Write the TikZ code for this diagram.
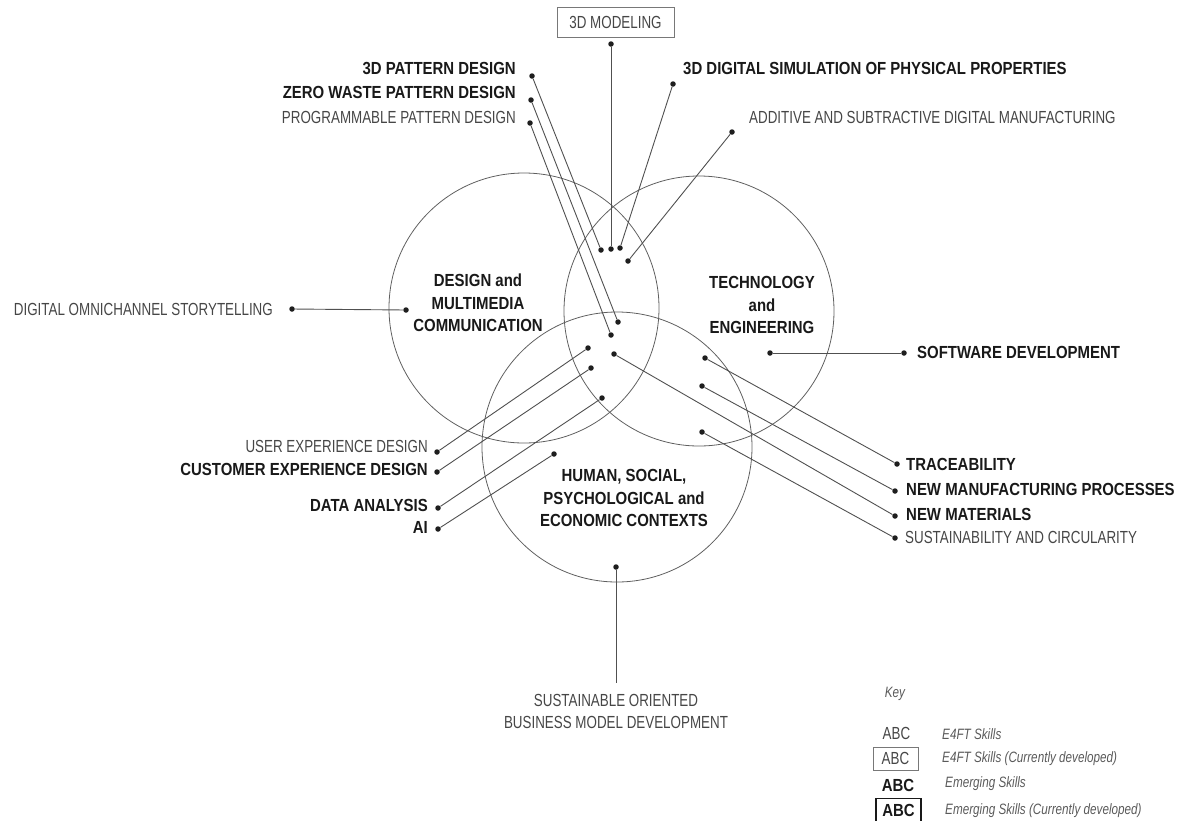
\documentclass[tikz,border=0pt]{standalone}
\usepackage{fontspec}
\setmainfont{Liberation Sans}
\newfontfamily\thinfam{Liberation Sans}[FakeStretch=0.765]
\newfontfamily\boldfam{Liberation Sans}[FakeStretch=0.855]
\newfontfamily\keyfam{Liberation Sans}[FakeStretch=0.78]
\definecolor{linecol}{RGB}{80,80,80}
\definecolor{ringcol}{RGB}{95,95,95}
\definecolor{dotcol}{RGB}{30,30,30}
\definecolor{lightcol}{RGB}{70,70,70}
\definecolor{boldcol}{RGB}{25,25,25}
\definecolor{keycol}{RGB}{90,90,90}
\definecolor{boxcol}{RGB}{120,120,120}
\tikzset{
  skilldot/.style={circle,fill=dotcol,inner sep=0pt,minimum size=5.5pt},
  link/.style={draw=linecol,line width=0.9pt},
  ring/.style={circle,draw=ringcol,line width=0.8pt,minimum size=270pt,inner sep=0pt},
  lightlbl/.style={inner sep=0pt,text=lightcol,font=\thinfam\fontsize{17.5}{22.5}\selectfont},
  boldlbl/.style={inner sep=0pt,text=boldcol,font=\boldfam\bfseries\fontsize{17.5}{22.5}\selectfont},
  areatitle/.style={boldlbl,align=center},
  keytxt/.style={inner sep=0pt,text=keycol,font=\keyfam\itshape\fontsize{15}{18}\selectfont},
  devbox/.style={draw=boxcol,line width=1pt}
}
\begin{document}
\begin{tikzpicture}[x=1pt,y=-1pt]
\useasboundingbox (0,0) rectangle (1181,820);

% the three skill areas
\node[ring] (design) at (524,308) {};
\node[ring] (tech)   at (699,311) {};
\node[ring] (human)  at (617,447) {};

\node[areatitle] (designT) at (478,303) {DESIGN and\\MULTIMEDIA\\COMMUNICATION};
\node[areatitle] (techT)   at (762,305) {TECHNOLOGY\\and\\ENGINEERING};
\node[areatitle] (humanT)  at (624,498) {HUMAN, SOCIAL,\\PSYCHOLOGICAL and\\ECONOMIC CONTEXTS};

% inner anchor dots
\node[skilldot] (t1) at (601,250) {};
\node[skilldot] (t2) at (611,249) {};
\node[skilldot] (t3) at (620,248) {};
\node[skilldot] (t4) at (628,261) {};
\node[skilldot] (c1) at (618,322) {};
\node[skilldot] (c2) at (611,335) {};
\node[skilldot] (c3) at (588,348) {};
\node[skilldot] (c4) at (591,368) {};
\node[skilldot] (c5) at (614,354) {};
\node[skilldot] (c6) at (602,398) {};
\node[skilldot] (b1) at (554,454) {};
\node[skilldot] (b2) at (616,567) {};
\node[skilldot] (l1) at (406,310) {};
\node[skilldot] (r1) at (770,353) {};
\node[skilldot] (r2) at (705,358) {};
\node[skilldot] (r3) at (702,386) {};
\node[skilldot] (r4) at (702,432) {};

% outer label dots
\node[skilldot] (o3dp)  at (532,76)  {};
\node[skilldot] (omod)  at (611,44)  {};
\node[skilldot] (osim)  at (673,84)  {};
\node[skilldot] (oadd)  at (732,132) {};
\node[skilldot] (ozero) at (531,100) {};
\node[skilldot] (oprog) at (530,123) {};
\node[skilldot] (oux)   at (437,452) {};
\node[skilldot] (ocx)   at (437,472) {};
\node[skilldot] (odata) at (438,508) {};
\node[skilldot] (oai)   at (438,529) {};
\node[skilldot] (ostory) at (292,309) {};
\node[skilldot] (osoft) at (904,353) {};
\node[skilldot] (otrace) at (897,464) {};
\node[skilldot] (omanu) at (895,491) {};
\node[skilldot] (omat)  at (895,516) {};
\node[skilldot] (osus)  at (895,538) {};
\coordinate (obiz) at (616,683);

% connectors
\draw[link] (o3dp) -- (t1);
\draw[link] (omod) -- (t2);
\draw[link] (osim) -- (t3);
\draw[link] (oadd) -- (t4);
\draw[link] (ozero) -- (c1);
\draw[link] (oprog) -- (c2);
\draw[link] (oux) -- (c3);
\draw[link] (ocx) -- (c4);
\draw[link] (c5) -- (omat);
\draw[link] (odata) -- (c6);
\draw[link] (oai) -- (b1);
\draw[link] (b2) -- (obiz);
\draw[link] (ostory) -- (l1);
\draw[link] (r1) -- (osoft);
\draw[link] (r2) -- (otrace);
\draw[link] (r3) -- (omanu);
\draw[link] (r4) -- (osus);

% skill labels
\node[lightlbl,devbox,minimum width=117pt,minimum height=30pt] (lmod) at (615.5,22) {3D MODELING};
\node[boldlbl,anchor=east]  (l3dp)  at (516,68)  {3D PATTERN DESIGN};
\node[boldlbl,anchor=east]  (lzero) at (516,92)  {ZERO WASTE PATTERN DESIGN};
\node[lightlbl,anchor=east] (lprog) at (516,117) {PROGRAMMABLE PATTERN DESIGN};
\node[boldlbl,anchor=west]  (lsim)  at (683,68)  {3D DIGITAL SIMULATION OF PHYSICAL PROPERTIES};
\node[lightlbl,anchor=west] (ladd)  at (749,117) {ADDITIVE AND SUBTRACTIVE DIGITAL MANUFACTURING};
\node[lightlbl,anchor=east] (lstory) at (273,309) {DIGITAL OMNICHANNEL STORYTELLING};
\node[boldlbl,anchor=west]  (lsoft) at (917,352) {SOFTWARE DEVELOPMENT};
\node[lightlbl,anchor=east] (lux)   at (428,446) {USER EXPERIENCE DESIGN};
\node[boldlbl,anchor=east]  (lcx)   at (428,469) {CUSTOMER EXPERIENCE DESIGN};
\node[boldlbl,anchor=east]  (ldata) at (428,505) {DATA ANALYSIS};
\node[boldlbl,anchor=east]  (lai)   at (428,527) {AI};
\node[boldlbl,anchor=west]  (ltrace) at (906,464) {TRACEABILITY};
\node[boldlbl,anchor=west]  (lmanu) at (906,489) {NEW MANUFACTURING PROCESSES};
\node[boldlbl,anchor=west]  (lmat)  at (906,514) {NEW MATERIALS};
\node[lightlbl,anchor=west] (lsus)  at (905,537) {SUSTAINABILITY AND CIRCULARITY};
\node[lightlbl,align=center] (lbiz) at (616,711.5) {SUSTAINABLE ORIENTED\\BUSINESS MODEL DEVELOPMENT};

% key
\node[keytxt] (keyhead) at (895,694) {Key};
\node[lightlbl] (k1) at (896.5,733) {ABC};
\node[keytxt,anchor=west] (k1t) at (942,734) {E4FT Skills};
\node[lightlbl,devbox,minimum width=45pt,minimum height=23pt] (k2) at (895.5,758.5) {ABC};
\node[keytxt,anchor=west] (k2t) at (942,759) {E4FT Skills (Currently developed)};
\node[boldlbl] (k3) at (898,785) {ABC};
\node[keytxt,anchor=west] (k3t) at (945,784) {Emerging Skills};
\node[boldlbl,draw=boldcol,line width=1.2pt,minimum width=45pt,minimum height=23pt] (k4) at (898.5,810) {ABC};
\node[keytxt,anchor=west] (k4t) at (945,811) {Emerging Skills (Currently developed)};
\end{tikzpicture}
\end{document}
